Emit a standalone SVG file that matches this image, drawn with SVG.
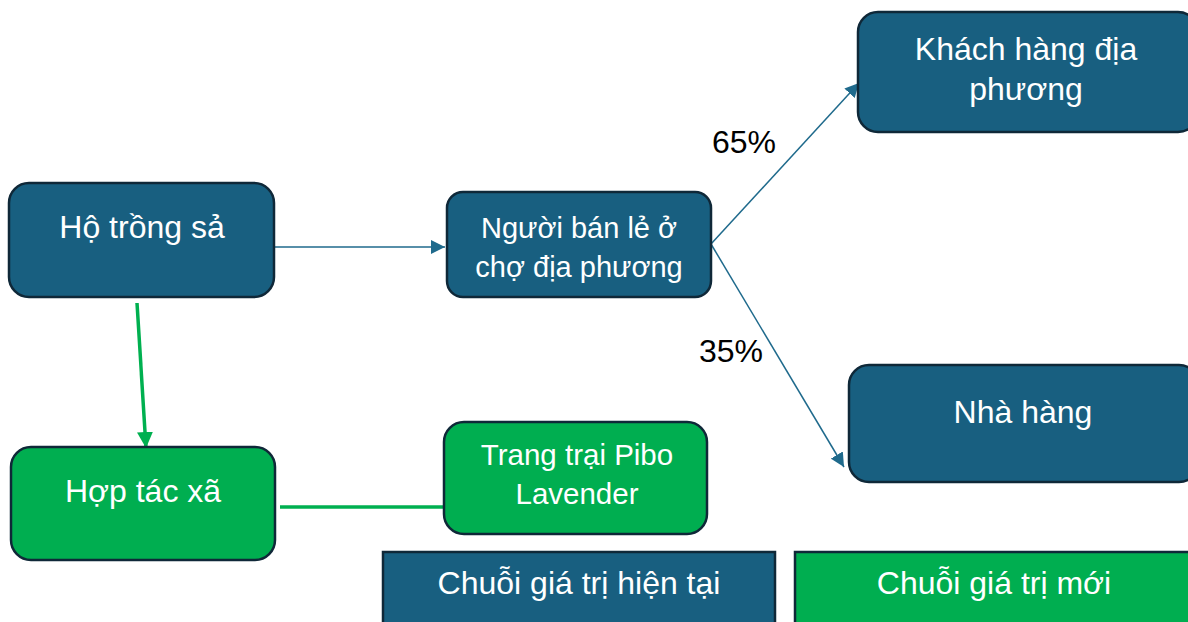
<svg xmlns="http://www.w3.org/2000/svg" width="1188" height="622" viewBox="0 0 1188 622">
<defs>
<style>
.blue{fill:#185f80;stroke:#0f2838;stroke-width:2.5}
.green{fill:#00ae50;stroke:#0f2838;stroke-width:2.5}
.t{font-family:"Liberation Sans",Arial,sans-serif;fill:#ffffff;text-anchor:middle}
.lbl{font-family:"Liberation Sans",Arial,sans-serif;fill:#000000;font-size:32px}
.cb{stroke:#1f6a8c;stroke-width:1.5;fill:none}
.cg{stroke:#00b050;stroke-width:3.5;fill:none}
</style>
<marker id="abl" viewBox="0 0 10 10" refX="10" refY="5" markerWidth="14" markerHeight="14" orient="auto" markerUnits="userSpaceOnUse">
<path d="M0,0 L10,5 L0,10 z" fill="#1f6a8c"/>
</marker>
<marker id="ag" viewBox="0 0 10 10" refX="10" refY="5" markerWidth="16" markerHeight="16" orient="auto" markerUnits="userSpaceOnUse">
<path d="M0,0 L10,5 L0,10 z" fill="#00b050"/>
</marker>
</defs>
<g id="connectors">
<line class="cb" x1="274" y1="247" x2="445" y2="247" marker-end="url(#abl)"/>
<line class="cb" x1="711" y1="244" x2="859" y2="83" marker-end="url(#abl)"/>
<line class="cb" x1="711" y1="244" x2="844" y2="467" marker-end="url(#abl)"/>
<line class="cg" x1="137" y1="303" x2="146" y2="448" marker-end="url(#ag)"/>
<line class="cg" x1="280" y1="507" x2="445" y2="507"/>
</g>
<g id="node-ho-trong-sa">
<rect class="blue" x="9" y="183" width="265" height="114" rx="20"/>
<text class="t" x="142" y="238" font-size="32">Hộ trồng sả</text>
</g>
<g id="node-nguoi-ban-le">
<rect class="blue" x="447" y="192" width="264" height="105" rx="16"/>
<text class="t" x="579" y="238" font-size="29">Người bán lẻ ở</text>
<text class="t" x="579" y="277" font-size="29">chợ địa phương</text>
</g>
<g id="node-khach-hang">
<rect class="blue" x="858" y="12" width="340" height="120" rx="20"/>
<text class="t" x="1026" y="60" font-size="32">Khách hàng địa</text>
<text class="t" x="1026" y="100" font-size="32">phương</text>
</g>
<g id="node-nha-hang">
<rect class="blue" x="849" y="365" width="350" height="117" rx="20"/>
<text class="t" x="1023" y="423" font-size="32">Nhà hàng</text>
</g>
<g id="node-hop-tac-xa">
<rect class="green" x="11" y="447" width="264" height="113" rx="20"/>
<text class="t" x="143" y="502" font-size="32">Hợp tác xã</text>
</g>
<g id="node-pibo">
<rect class="green" x="444" y="422" width="263" height="112" rx="20"/>
<text class="t" x="577" y="465" font-size="29.5">Trang trại Pibo</text>
<text class="t" x="577" y="504" font-size="29.5">Lavender</text>
</g>
<g id="labels">
<text class="lbl" x="712" y="153">65%</text>
<text class="lbl" x="699" y="362">35%</text>
</g>
<g id="legend-current">
<rect class="blue" x="383" y="552" width="392" height="80" rx="0"/>
<text class="t" x="579" y="594" font-size="32">Chuỗi giá trị hiện tại</text>
</g>
<g id="legend-new">
<rect class="green" x="795" y="552" width="400" height="80" rx="0"/>
<text class="t" x="994" y="594" font-size="32">Chuỗi giá trị mới</text>
</g>
</svg>
